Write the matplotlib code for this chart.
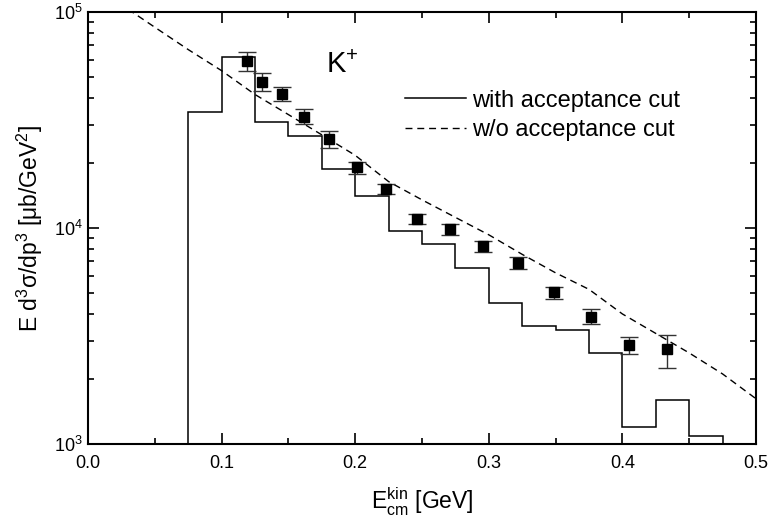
import matplotlib
matplotlib.use("Agg")
import matplotlib.pyplot as plt
import numpy as np
from matplotlib.ticker import LogLocator, MultipleLocator, NullFormatter, FixedLocator

plt.rcParams['font.family'] = ['Liberation Sans', 'DejaVu Sans']
plt.rcParams['mathtext.fontset'] = 'custom'
plt.rcParams['mathtext.rm'] = 'Liberation Sans'
plt.rcParams['mathtext.it'] = 'Liberation Sans'
plt.rcParams['mathtext.bf'] = 'Liberation Sans:bold'

# Histogram (with acceptance cut)
hist_edges = [0.075, 0.1, 0.125, 0.15, 0.175, 0.2, 0.225, 0.25, 0.275, 0.3,
              0.325, 0.35, 0.375, 0.4, 0.425, 0.45, 0.475]
hist_values = [34400, 62000, 31000, 26600, 18800, 14000, 9700, 8450, 6500,
               4500, 3530, 3360, 2630, 1200, 1590, 1085]

# Dashed curve (w/o acceptance cut)
curve_x = [0.03, 0.05, 0.075, 0.1, 0.125, 0.15, 0.175, 0.2, 0.225, 0.25, 0.275,
           0.3, 0.325, 0.35, 0.375, 0.4, 0.425, 0.45, 0.475, 0.5]
curve_y = [103000, 85000, 67000, 53500, 41500, 33500, 27000, 21700, 16400, 13500,
           11200, 9300, 7550, 6200, 5200, 4000, 3250, 2640, 2110, 1620]

# Data points
data_x = [0.119, 0.1305, 0.145, 0.162, 0.1806, 0.201, 0.223, 0.2463, 0.2707,
          0.2959, 0.322, 0.3488, 0.3765, 0.4047, 0.4332]
data_y = [59500, 47600, 41700, 32700, 25700, 19100, 15100, 11000, 9860, 8250,
          6910, 5040, 3885, 2870, 2740]
data_hi = [65500, 52000, 45100, 35400, 28100, 20300, 15900, 11600, 10440, 8740,
           7370, 5350, 4220, 3140, 3205]
data_lo = [53300, 43200, 38800, 30300, 23400, 17800, 14300, 10440, 9310, 7770,
           6480, 4690, 3594, 2610, 2256]

fig = plt.figure(figsize=(7.72, 5.29), dpi=100)
ax = fig.add_axes([88/772, 1-444/529, (756-88)/772, (444-12)/529])

ax.set_yscale('log')
ax.set_xlim(0.0, 0.5)
ax.set_ylim(1e3, 1e5)

ax.stairs(hist_values, hist_edges, baseline=1e3, color='black', linewidth=1.1,
          label='with acceptance cut')
ax.plot(curve_x, curve_y, color='black', linestyle=(0, (5, 3.5)), linewidth=1.0,
        label='w/o acceptance cut')

yerr = [np.array(data_y) - np.array(data_lo), np.array(data_hi) - np.array(data_y)]
ax.errorbar(data_x, data_y, yerr=yerr, fmt='s', color='black', markersize=7.5,
            ecolor='#333333', elinewidth=1.0, capsize=6.5, capthick=1.0)

ax.text(0.178, 5.7e4, r'K$^{+}$', fontsize=21, ha='left', va='center')

ax.legend(loc='upper left', bbox_to_anchor=(0.46, 0.842), frameon=False,
          fontsize=17, handlelength=2.6, handletextpad=0.25, labelspacing=0.3,
          borderaxespad=0)

ax.xaxis.set_major_locator(MultipleLocator(0.1))
ax.xaxis.set_minor_locator(MultipleLocator(0.05))
ax.xaxis.set_major_formatter(plt.FuncFormatter(lambda v, p: f'{v:.1f}'))
ax.yaxis.set_major_locator(FixedLocator([1e3, 1e4, 1e5]))
ax.yaxis.set_minor_locator(LogLocator(base=10, subs=np.arange(2, 10)))
ax.yaxis.set_minor_formatter(NullFormatter())
ax.yaxis.set_major_formatter(plt.FuncFormatter(
    lambda v, p: r'10$^{%d}$' % int(round(np.log10(v)))))

ax.tick_params(which='both', direction='in', top=True, right=True, width=1.2)
ax.tick_params(which='major', length=8, labelsize=13)
ax.tick_params(which='minor', length=4)
ax.tick_params(axis='x', pad=8)
ax.tick_params(axis='y', pad=4)
for s in ax.spines.values():
    s.set_linewidth(1.5)

ax.set_xlabel(r'E$_{\mathrm{cm}}^{\mathrm{kin}}$ [GeV]', fontsize=16.5, labelpad=10)
ax.set_ylabel(r'E d$^{3}$σ/dp$^{3}$ [μb/GeV$^{2}$]', fontsize=16.5, labelpad=6)

fig.savefig('out.png', dpi=100)
